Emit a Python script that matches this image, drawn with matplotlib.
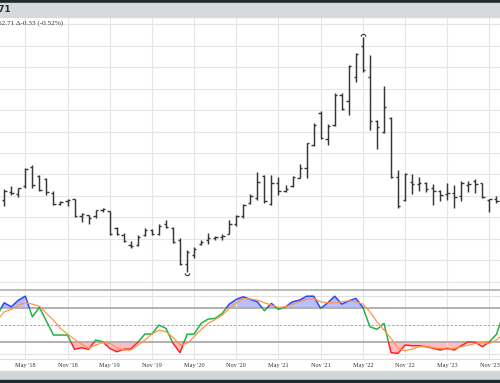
import numpy as np
import matplotlib
matplotlib.use("Agg")
import matplotlib.pyplot as plt
from matplotlib.patches import Rectangle
from matplotlib.path import Path
from matplotlib.ticker import MultipleLocator

# monthly bars, Feb 2018 .. Dec 2023 (month index 0 = Jan 2018)
bar_months = list(range(1, 72))
opens = [63.98, 65.86, 65.39, 67.27, 71.72, 69.61, 68.91, 65.63, 63.05, 63.75, 64.22,
         60.23, 60.47, 60.23, 61.64, 61.41, 57.66, 56.02, 53.67, 53.67, 56.02, 57.19, 56.25,
         58.59, 57.66, 54.84, 49.22, 51.33, 53.91, 54.84, 55.31, 55.55, 56.25, 58.59, 60.23,
         63.28, 64.45, 69.61, 63.05, 67.97, 66.09, 67.27, 69.14, 71.48, 76.88, 84.38, 78.28,
         81.56, 88.59, 87.02, 92.58, 99.84, 92.58, 82.50, 79.92, 83.20, 69.38, 63.98, 68.20,
         67.73, 67.97, 66.80, 66.09, 65.39, 65.63, 64.92, 67.50, 68.44, 67.97, 63.98, 64.22]
highs = [66.56, 67.27, 66.91, 71.60, 72.30, 69.77, 69.07, 66.09, 63.91, 64.22, 64.38,
         61.05, 60.63, 61.80, 62.18, 61.52, 57.89, 56.32, 54.54, 55.95, 57.66, 57.35, 58.43,
         59.46, 57.77, 55.15, 52.43, 53.20, 54.77, 56.32, 55.78, 56.09, 59.46, 60.63, 63.12,
         65.46, 70.62, 69.84, 69.84, 69.38, 67.50, 69.54, 72.35, 77.41, 81.87, 84.68, 81.73,
         88.90, 88.90, 95.39, 98.27, 102.02, 97.73, 82.62, 90.70, 83.27, 70.95, 70.38, 70.01,
         69.38, 68.27, 67.80, 66.49, 68.04, 67.66, 68.60, 68.44, 68.84, 68.04, 64.38, 65.09]
lows = [62.58, 65.27, 64.80, 66.91, 66.80, 66.09, 65.32, 62.98, 62.81, 62.58, 60.00,
        59.06, 58.43, 59.84, 61.29, 55.95, 55.95, 54.37, 52.80, 53.44, 55.78, 55.95, 55.95,
        57.49, 53.98, 49.05, 47.34, 50.62, 53.60, 53.74, 54.77, 54.77, 56.09, 58.12, 59.84,
        63.12, 64.15, 63.35, 62.98, 65.16, 65.98, 67.15, 69.07, 69.21, 76.64, 78.21, 76.88,
        81.33, 85.01, 83.84, 91.48, 93.82, 80.32, 75.87, 79.76, 69.21, 62.18, 63.75, 65.46,
        66.09, 65.93, 62.98, 63.75, 64.15, 62.18, 63.75, 65.93, 65.70, 64.52, 61.17, 63.35]
closes = [66.09, 65.63, 66.80, 71.25, 67.50, 66.33, 65.86, 63.05, 63.52, 63.98, 60.23,
          60.70, 59.77, 61.64, 61.88, 56.25, 56.25, 54.61, 53.44, 55.55, 57.19, 56.25, 58.12,
          57.89, 54.37, 49.22, 52.03, 52.73, 54.37, 55.31, 55.55, 55.78, 58.59, 60.23, 62.81,
          64.92, 68.20, 63.75, 67.97, 66.09, 66.56, 69.38, 71.48, 77.34, 81.56, 78.52, 81.33,
          88.59, 85.31, 95.16, 97.97, 94.22, 82.50, 81.09, 85.78, 69.38, 62.58, 70.08, 67.73,
          67.97, 66.56, 66.09, 65.16, 65.63, 64.69, 67.97, 67.73, 67.73, 64.69, 64.22, 63.87]

# stochastic, Jan 2018 .. Jan 2024
stoch_months = list(range(0, 73))
pct_k = [67, 88.6, 81.6, 93, 100, 64.3, 80.6, 56.8, 32.6, 32.6, 32.6, 7.8,
         10.6, 7.8, 24, 21, 9.5, 3.6, 7.8, 8.3, 20, 34.3, 34.3, 50,
         44.2, 18.2, 2, 33.8, 34.3, 52.9, 60.3, 61.5, 70.2, 86.3, 94.5, 99,
         94.5, 90.3, 74.7, 87.5, 77, 81.6, 90.3, 93.2, 100, 100, 78.8, 88.6,
         100, 86.3, 92, 96.2, 80.6, 47, 42.5, 52.9, 2, 0.8, 15.3, 14,
         14, 12.3, 9.5, 6.6, 9.5, 6.6, 14, 21, 20, 12.3, 21, 33.8,
         70]
pct_d = [58, 73, 77, 84.6, 88.6, 86.3, 82.8, 70.1, 58.6, 44.1, 34.3, 25.1,
         17, 9.5, 15.3, 19.3, 18.1, 10.6, 6.6, 6.6, 15.3, 23.9, 34.3, 41.2,
         38.4, 28.5, 15.3, 18.1, 29.7, 42.4, 52.8, 59.7, 67.2, 78.8, 88.6, 96.1,
         95, 93.3, 88.6, 84.6, 80.5, 81.6, 86.3, 90.3, 94.4, 96.1, 90.3, 88.6,
         88.6, 90.3, 92.1, 90.3, 86.3, 73, 55.7, 41.2, 26.8, 9.5, 5.4, 8.3,
         12.4, 12.4, 10.6, 9.5, 7.7, 9.5, 12.4, 15.3, 18.1, 19.3, 18.1, 23.9,
         35]

tick_months = list(range(4, 71, 6))
tick_labels = ["May '18", "Nov '18", "May '19", "Nov '19", "May '20", "Nov '20",
               "May '21", "Nov '21", "May '22", "Nov '22", "May '23", "Nov '23"]

last_text = "62.71 \u0394-0.33 (-0.52%)"

W, H = 500, 383
fig = plt.figure(figsize=(5, 3.83), dpi=100)

def fy(px):
    return 1 - px / H

# header / footer bands (the chart is a crop, so these are cut at the edges)
fig.patches.append(Rectangle((0, fy(3.3)), 1, 3.3 / H, transform=fig.transFigure, color='#1f2a2e'))
fig.patches.append(Rectangle((0, fy(17)), 1, 13.7 / H, transform=fig.transFigure, color='#d6dadd'))
fig.patches.append(Rectangle((0, fy(380)), 1, 9 / H, transform=fig.transFigure, color='#d4d7da'))
fig.patches.append(Rectangle((0, 0), 1, 3 / H, transform=fig.transFigure, color='#1f2a2e'))
fig.text(10.5 / W, fy(9), "62.71", ha='right', va='center', fontsize=6.2,
         fontweight='bold', color='#2a2a2a', family='DejaVu Sans')

ax = fig.add_axes([0, fy(290), 1, (290 - 17) / H])
ax2 = fig.add_axes([0, fy(359), 1, (359 - 290) / H], sharex=ax)

xmin, xmax = 0.40, 71.50
ax.set_xlim(xmin, xmax)
ax.set_ylim(43.13, 106.64)
ax.yaxis.set_major_locator(MultipleLocator(5))
ax.set_xticks(tick_months)
ax.grid(True, color='#e6e6e6', lw=0.8)
ax.set_axisbelow(True)
ax.tick_params(left=False, bottom=False, labelleft=False, labelbottom=False)
for s in ax.spines.values():
    s.set_visible(False)

# OHLC bars
m = np.array(bar_months)
bar_col = '#363636'
ax.vlines(m, lows, highs, color=bar_col, lw=1.05)
ax.hlines(opens, m - 0.33, m, color=bar_col, lw=1.0)
ax.hlines(closes, m, m + 0.33, color=bar_col, lw=1.0)

# arc markers on the extreme high / low
arc = Path.arc(0, 180)
cap = Path(arc.vertices + [0, 0.35], arc.codes)
cup = Path(arc.vertices * [1, -1] - [0, 0.35], arc.codes)
ih = int(np.argmax(highs))
il = int(np.argmin(lows))
ax.plot(bar_months[ih], highs[ih], marker=cap, ms=4.5, mfc='none', mec=bar_col, mew=0.8)
ax.plot(bar_months[il], lows[il], marker=cup, ms=4.5, mfc='none', mec=bar_col, mew=0.8)

ax.text(-1.5 / W, fy(22.7), last_text, transform=fig.transFigure, fontsize=5.2,
        family='Liberation Serif', color='#333333', va='center', ha='left')

# stochastic panel
ax2.set_ylim(-9.0, 110.8)
ax2.set_yticks([])
ax2.set_xticks(tick_months)
ax2.set_xticklabels(tick_labels, fontsize=4.5, family='Liberation Serif', color='#333333')
ax2.tick_params(length=0, pad=3)
ax2.grid(True, axis='x', color='#e6e6e6', lw=0.8)
for s in ax2.spines.values():
    s.set_visible(False)
ax2.spines['top'].set_visible(True)
ax2.spines['top'].set_color('#b5b5b5')
ax2.spines['top'].set_linewidth(1.3)
ax2.spines['bottom'].set_visible(True)
ax2.spines['bottom'].set_color('#dddddd')
ax2.spines['bottom'].set_linewidth(0.8)

ax2.axhline(100, color='#e2e2e2', lw=0.8)
ax2.axhline(0, color='#e2e2e2', lw=0.8)
ax2.axhline(80, color='#b0a9a9', lw=1.3)
ax2.axhline(20, color='#b0a9a9', lw=1.3)
ax2.axhline(50, color='#9a9a9a', lw=0.6, ls=(0, (3, 2)))

k = np.array(pct_k)
xs = np.array(stoch_months)
ax2.fill_between(xs, k, 80, where=k >= 80, interpolate=True, color='#8796f4', alpha=0.6, lw=0)
ax2.fill_between(xs, k, 20, where=k <= 20, interpolate=True, color='#ff8f99', alpha=0.6, lw=0)

# %K coloured by zone: green in the middle, blue above 80, red below 20
bands = [(20, 60, '#25b04a'), (80, 100, '#2a46ff'), (-100, 120, '#ff2424')]
for lo, hgt, col in bands:
    line, = ax2.plot(xs, k, color=col, lw=1.1)
    line.set_clip_path(Rectangle((-10, lo), 100, hgt, transform=ax2.transData))
ax2.plot(xs, pct_d, color='#ff9645', lw=0.9)

fig.savefig("out.png", dpi=100)
